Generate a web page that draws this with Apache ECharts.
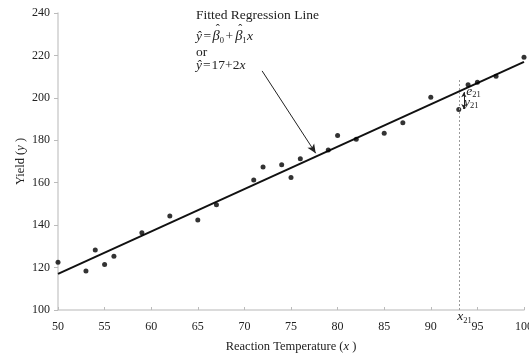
<!DOCTYPE html>
<html>
<head>
<meta charset="utf-8">
<script src="https://cdn.jsdelivr.net/npm/echarts@6/dist/echarts.min.js"></script>
<style>
  html, body { margin: 0; padding: 0; background: #fff; overflow: hidden; }
  #chart { width: 529px; height: 357px; }
</style>
</head>
<body>
<div id="chart"></div>
<script>
// Observed reaction temperatures and yields
const temperature = [50, 53, 54, 55, 56, 59, 62, 65, 67, 71, 72, 74, 75, 76, 79, 80, 82, 85, 87, 90, 93, 94, 95, 97, 100];
const yieldValues = [122.5, 118.4, 128.3, 121.4, 125.3, 136.4, 144.3, 142.4, 149.6, 161.3, 167.4, 168.5, 162.4, 171.3, 175.4, 182.2, 180.5, 183.3, 188.3, 200.3, 194.5, 206.2, 207.3, 210.2, 219.1];

// Fitted line  y = 17 + 2x
const intercept = 17;
const slope = 2;
const xRange = [50, 100];
const yRange = [100, 240];
const xTicks = [50, 55, 60, 65, 70, 75, 80, 85, 90, 95, 100];
const yTicks = [100, 120, 140, 160, 180, 200, 220, 240];

// Highlighted observation (21st)
const obsX = 93;
const obsY = 194.5;

const serif = '"Liberation Serif", "Times New Roman", serif';
const ink = '#222';

const fitted = xRange.map(x => [x, intercept + slope * x]);
const points = temperature.map((t, i) => [t, yieldValues[i]]);

const chart = echarts.init(document.getElementById('chart'));

chart.setOption({
  animation: false,
  backgroundColor: '#fff',
  grid: { left: 58, right: 5, top: 13, bottom: 47, containLabel: false, outerBoundsMode: 'none' },
  xAxis: {
    type: 'value',
    min: xRange[0], max: xRange[1], interval: 5,
    name: 'Reaction Temperature ({i|x} )',
    nameLocation: 'middle',
    nameGap: 30,
    nameMoveOverlap: false,
    nameTextStyle: {
      fontFamily: serif, fontSize: 12.5, color: ink,
      rich: { i: { fontFamily: serif, fontStyle: 'italic', fontSize: 12.5, color: ink } }
    },
    axisLine: { show: true, lineStyle: { color: '#cfcfcf', width: 1.5 } },
    axisTick: { show: true, inside: true, length: 3, lineStyle: { color: '#bbb' } },
    axisLabel: { fontFamily: serif, fontSize: 12, color: ink, margin: 10.5, hideOverlap: false,
      formatter: v => xTicks.includes(v) ? String(v) : '' },
    splitLine: { show: false }
  },
  yAxis: {
    type: 'value',
    min: yRange[0], max: yRange[1], interval: 20,
    name: 'Yield ({i|y} )',
    nameLocation: 'middle',
    nameGap: 31,
    nameRotate: 90,
    nameMoveOverlap: false,
    nameTextStyle: {
      fontFamily: serif, fontSize: 12.5, color: ink,
      rich: { i: { fontFamily: serif, fontStyle: 'italic', fontSize: 12.5, color: ink } }
    },
    axisLine: { show: true, lineStyle: { color: '#cfcfcf', width: 1.5 } },
    axisTick: { show: true, length: 4, lineStyle: { color: '#bbb' } },
    axisLabel: { fontFamily: serif, fontSize: 12, color: ink, margin: 8,
      formatter: v => yTicks.includes(v) ? String(v) : '' },
    splitLine: { show: false }
  },
  series: [
    {
      name: 'Fitted line',
      type: 'line',
      data: fitted,
      symbol: 'none',
      lineStyle: { color: '#111', width: 2 },
      z: 3,
      markLine: {
        silent: true,
        symbol: ['none', 'none'],
        label: { show: false },
        data: [
          // dotted guide at x21
          [
            { coord: [obsX, yRange[0]], lineStyle: { color: '#9a9a9a', type: [2, 2], width: 1 } },
            { coord: [obsX, 208.5] }
          ]
        ]
      }
    },
    {
      name: 'Annotation arrow',
      type: 'line',
      data: [],
      markLine: {
        silent: true,
        symbol: ['none', 'arrow'],
        symbolSize: [6, 9],
        label: { show: false },
        lineStyle: { color: '#222', width: 1, type: 'solid' },
        data: [
          [ { coord: [71.9, 212.7] }, { coord: [77.65, 173.9] } ]
        ]
      }
    },
    {
      name: 'Residual',
      type: 'line',
      data: [],
      markLine: {
        silent: true,
        symbol: ['arrow', 'arrow'],
        symbolSize: [4, 5],
        label: { show: false },
        lineStyle: { color: '#222', width: 1, type: 'solid' },
        data: [
          [ { coord: [93.55, intercept + slope * obsX - 0.3] }, { coord: [93.55, obsY + 0.3] } ]
        ]
      }
    },
    {
      name: 'Observations',
      type: 'scatter',
      data: points,
      symbol: 'circle',
      symbolSize: 5,
      itemStyle: { color: '#000' },
      z: 4
    }
  ]
});

// Text annotations anchored to data coordinates
function px(x, y) { return chart.convertToPixel({ gridIndex: 0 }, [x, y]); }

const measureCtx = document.createElement('canvas').getContext('2d');
function fontOf(st) {
  return (st.italic ? 'italic ' : '') + st.size + 'px ' + serif;
}
function widthOf(text, st) {
  measureCtx.font = fontOf(st);
  return measureCtx.measureText(text).width;
}

// Lay out a run of text pieces left to right; pieces may carry a hat or be subscripts
function formula(x, y, pieces) {
  const p = px(x, y);
  let cx = p[0];
  const out = [];
  pieces.forEach(pc => {
    const st = { size: pc.sub ? 8.5 : (pc.size || 13.5), italic: !!pc.italic };
    const w = widthOf(pc.t, st);
    out.push({
      type: 'text', x: cx, y: p[1] + (pc.sub ? 4 : 0), silent: true, z: 10,
      style: { text: pc.t, font: fontOf(st), fill: ink, align: 'left', verticalAlign: 'middle' }
    });
    if (pc.hat) {
      out.push({
        type: 'text', x: cx + w / 2 + 1.5, y: p[1] - 6.5, silent: true, z: 10,
        style: { text: 'ˆ', font: fontOf({ size: 12, italic: false }), fill: ink, align: 'center', verticalAlign: 'middle' }
      });
    }
    cx += w + (pc.gap || 0);
  });
  return out;
}

function textAt(x, y, text, opts) {
  const p = px(x, y);
  return {
    type: 'text', x: p[0] + (opts.dx || 0), y: p[1] + (opts.dy || 0), silent: true, z: 10,
    style: { text: text, font: fontOf({ size: opts.size || 13.5, italic: !!opts.italic }),
      fill: ink, align: 'left', verticalAlign: 'middle' }
  };
}

const labelLeftX = 64.8;
const graphics = [].concat(
  [textAt(labelLeftX, 238.8, 'Fitted Regression Line', {})],
  formula(labelLeftX, 229.0, [
    { t: 'ŷ', italic: true, gap: 1.5 },
    { t: '=', gap: 1.5 },
    { t: 'β', italic: true, hat: true, size: 14.5 },
    { t: '0', sub: true, gap: 1.5 },
    { t: '+', gap: 2 },
    { t: 'β', italic: true, hat: true, size: 14.5 },
    { t: '1', sub: true, gap: 0.5 },
    { t: 'x', italic: true }
  ]),
  [textAt(labelLeftX, 221.6, 'or', {})],
  formula(labelLeftX, 215.2, [
    { t: 'ŷ', italic: true, gap: 1 },
    { t: '=', gap: 1 },
    { t: '17+2' },
    { t: 'x', italic: true }
  ]),
  formula(93.8, 203.2, [ { t: 'e', italic: true }, { t: '21', sub: true } ]),
  formula(93.55, 198.0, [ { t: 'y', italic: true }, { t: '21', sub: true } ]),
  formula(92.85, 97.0, [ { t: 'x', italic: true }, { t: '21', sub: true } ])
);

chart.setOption({ graphic: graphics });
</script>
</body>
</html>
